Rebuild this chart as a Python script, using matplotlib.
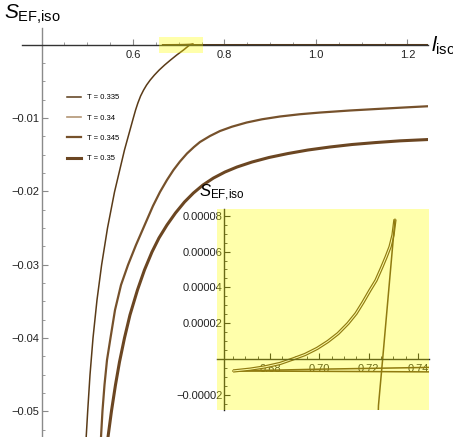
import matplotlib

matplotlib.use("Agg")
import matplotlib.pyplot as plt
import numpy as np
from matplotlib.lines import Line2D
from matplotlib.patches import Rectangle

plt.rcParams["font.family"] = ["Liberation Sans", "DejaVu Sans"]
plt.rcParams["mathtext.fontset"] = "custom"
plt.rcParams["mathtext.rm"] = "Liberation Sans"
plt.rcParams["mathtext.it"] = "Liberation Sans:italic"

W, H = 453, 437

temperatures = ["0.335", "0.34", "0.345", "0.35"]
colors = {"0.335": "#5a3b18", "0.34": "#b39675", "0.345": "#76512b", "0.35": "#6b4622"}
widths = {"0.335": 1.1, "0.34": 1.2, "0.345": 1.6, "0.35": 2.2}

# T = 0.335 -- swallowtail near S = 0, kept as separate branches
l_335_flat_a = [0.6650, 0.70, 0.7445, 0.90, 1.245]
s_335_flat_a = [-0.0000067, -0.0000057, -0.0000047, -0.000003, -0.0000015]
l_335_flat_b = [0.6650, 0.70, 0.7445, 0.90, 1.245]
s_335_flat_b = [-0.0000067, -0.0000069, -0.0000072, -0.0000075, -0.000008]
l_335_rise = [0.6650, 0.6719, 0.6780, 0.6841, 0.6893, 0.6942, 0.6991, 0.7035, 0.7076, 0.7116,
              0.7149, 0.7177, 0.7206, 0.7230, 0.7254, 0.7271, 0.7287, 0.7299, 0.7307]
s_335_rise = [-0.0000067, -0.0000057, -0.0000044, -0.0000025, 0.0, 0.0000025, 0.0000059, 0.0000098,
              0.0000142, 0.0000198, 0.0000254, 0.0000316, 0.0000385, 0.0000439, 0.0000514, 0.0000570,
              0.0000627, 0.0000693, 0.0000780]
l_335_fall = [0.7307, 0.7257, 0.7240, 0.7104, 0.6957, 0.6820, 0.6691, 0.6573, 0.6468, 0.6376, 0.6297,
              0.6232, 0.6166, 0.6107, 0.6057, 0.6007, 0.5814, 0.5596, 0.5443, 0.5314, 0.5213, 0.5126,
              0.5060, 0.5010, 0.4977]
s_335_fall = [0.0000780, 0.0, -0.000026, -0.00072, -0.00140, -0.00209, -0.00277, -0.00345, -0.00414,
              -0.00482, -0.00550, -0.00618, -0.00700, -0.00795, -0.00890, -0.01000, -0.01436, -0.02009,
              -0.02500, -0.03004, -0.03482, -0.04000, -0.04505, -0.04995, -0.05350]

# T = 0.345
l_345 = [0.5301, 0.5333, 0.5377, 0.5432, 0.5508, 0.5607, 0.5738, 0.5891, 0.6066, 0.6284, 0.6437,
         0.6590, 0.6743, 0.6885, 0.7027, 0.7180, 0.7333, 0.7464, 0.7683, 0.7902, 0.8164, 0.8485,
         0.8820, 0.9213, 0.9650, 1.0087, 1.0743, 1.1399, 1.1989, 1.2450]
s_345 = [-0.05350, -0.04995, -0.04641, -0.04300, -0.04000, -0.03618, -0.03277, -0.03004, -0.02731,
         -0.02418, -0.02199, -0.02009, -0.01845, -0.01709, -0.01593, -0.01484, -0.01395, -0.01327,
         -0.01245, -0.01177, -0.01118, -0.01061, -0.01017, -0.00979, -0.00948, -0.00925, -0.00897,
         -0.00874, -0.00854, -0.00839]

# T = 0.35
l_350 = [0.5454, 0.5530, 0.5617, 0.5705, 0.5814, 0.5934, 0.6098, 0.6251, 0.6415, 0.6568, 0.6743,
         0.6929, 0.7126, 0.7322, 0.7530, 0.7760, 0.8011, 0.8273, 0.8601, 0.8973, 0.9388, 0.9825,
         1.0306, 1.0787, 1.1311, 1.1836, 1.2450]
s_350 = [-0.05350, -0.04995, -0.04641, -0.04327, -0.04000, -0.03686, -0.03345, -0.03072, -0.02827,
         -0.02636, -0.02459, -0.02295, -0.02145, -0.02022, -0.01913, -0.01818, -0.01736, -0.01668,
         -0.01600, -0.01538, -0.01484, -0.01436, -0.01395, -0.01361, -0.01334, -0.01311, -0.01293]

main_xticks = [0.6, 0.8, 1.0, 1.2]
main_xlabels = ["0.6", "0.8", "1.0", "1.2"]
main_yticks = [-0.05, -0.04, -0.03, -0.02, -0.01]
main_ylabels = ["\u22120.05", "\u22120.04", "\u22120.03", "\u22120.02", "\u22120.01"]
inset_xticks = [0.68, 0.70, 0.72, 0.74]
inset_xlabels = ["0.68", "0.70", "0.72", "0.74"]
inset_yticks = [-0.00002, 0.00002, 0.00004, 0.00006, 0.00008]
inset_ylabels = ["\u22120.00002", "0.00002", "0.00004", "0.00006", "0.00008"]


def style_axes(ax, x0, y0, xcolor, ycolor):
    for side in ("top", "right"):
        ax.spines[side].set_visible(False)
    ax.spines["left"].set_position(("data", x0))
    ax.spines["bottom"].set_position(("data", y0))
    ax.spines["left"].set_color(ycolor)
    ax.spines["bottom"].set_color(xcolor)
    ax.spines["left"].set_linewidth(1.0)
    ax.spines["bottom"].set_linewidth(1.0)


def draw_t335(ax, core):
    c, lw = colors["0.335"], widths["0.335"]
    ax.plot(l_335_flat_a, s_335_flat_a, color=c, lw=lw)
    ax.plot(l_335_flat_b, s_335_flat_b, color=c, lw=lw)
    if core:
        # the inset shows this branch as a doubled line
        ax.plot(l_335_rise, s_335_rise, color=c, lw=2.4, solid_capstyle="butt")
        ax.plot(l_335_rise, s_335_rise, color="white", lw=0.7)
    else:
        ax.plot(l_335_rise, s_335_rise, color=c, lw=lw)
    ax.plot(l_335_fall, s_335_fall, color=c, lw=lw)


fig = plt.figure(figsize=(W / 100, H / 100), dpi=100)

# main panel
ax = fig.add_axes([21.7 / W, 0, (428 - 21.7) / W, (437 - 28.3) / H])
ax.patch.set_visible(False)
ax.set_xlim(0.3567, 1.245)
ax.set_ylim(-0.0535, 0.00224)
style_axes(ax, 0.4, 0.0, "#333333", "#8a8a8a")

draw_t335(ax, core=False)
ax.plot(l_345, s_345, color=colors["0.345"], lw=widths["0.345"])
ax.plot(l_350, s_350, color=colors["0.35"], lw=widths["0.35"])
ax.add_patch(Rectangle((0.657, -0.0011), 0.096, 0.0022, facecolor=(1, 1, 0), alpha=0.33, lw=0, zorder=5))

ax.set_xticks(main_xticks, labels=main_xlabels)
ax.set_xticks(np.arange(0.45, 1.21, 0.05), minor=True)
ax.set_yticks(main_yticks, labels=main_ylabels)
ax.set_yticks(np.arange(-0.0525, 0.0, 0.0025), minor=True)
ax.tick_params(which="both", direction="in", colors="#8a8a8a", labelcolor="#222222", labelsize=8)
ax.tick_params(axis="x", which="major", length=4, width=0.8, pad=4)
ax.tick_params(axis="y", which="major", length=4, width=0.8, pad=1.5)
ax.tick_params(which="minor", length=2.2, width=0.6)

handles = [Line2D([], [], color=colors[t], lw=widths[t]) for t in temperatures]
ax.legend(handles, [f"T = {t}" for t in temperatures], loc="upper left",
          bbox_to_anchor=(67 / W, 1 - 94 / H), bbox_transform=fig.transFigure,
          frameon=False, fontsize=5.5, handlelength=1.8, handletextpad=0.8,
          labelspacing=1.7, borderpad=0, borderaxespad=0)

fig.text(4 / W, 1 - 14 / H, r"$S_{\rm EF{,}iso}$", fontsize=15, va="center", ha="left")
fig.text(431 / W, 1 - 46 / H, r"$l_{\rm iso}$", fontsize=15, va="center", ha="left")

# inset
ins = fig.add_axes([217 / W, 1 - 410 / H, 212 / W, 201 / H])
ins.set_xlim(0.6585, 0.7445)
ins.set_ylim(-0.0000285, 0.0000838)
style_axes(ins, 0.6614, 0.0, "#222222", "#222222")
draw_t335(ins, core=True)

ins.set_xticks(inset_xticks, labels=inset_xlabels)
ins.set_xticks(np.arange(0.665, 0.745, 0.005), minor=True)
ins.set_yticks(inset_yticks, labels=inset_ylabels)
ins.set_yticks(np.arange(-0.000025, 0.00008, 0.000005), minor=True)
ins.tick_params(which="both", direction="in", colors="#222222", labelcolor="#222222", labelsize=8)
ins.tick_params(axis="x", which="major", length=4, width=0.8, pad=3.5)
ins.tick_params(axis="y", which="major", length=4, width=0.8, pad=1)
ins.tick_params(which="minor", length=2.2, width=0.6)
ins.add_patch(Rectangle((0, 0), 1, 1, transform=ins.transAxes, facecolor=(1, 1, 0), alpha=0.33,
                        lw=0, zorder=10, clip_on=False))
fig.text(199 / W, 1 - 193 / H, r"$S_{\rm EF{,}iso}$", fontsize=12, va="center", ha="left")

fig.savefig("out.png", dpi=100)
